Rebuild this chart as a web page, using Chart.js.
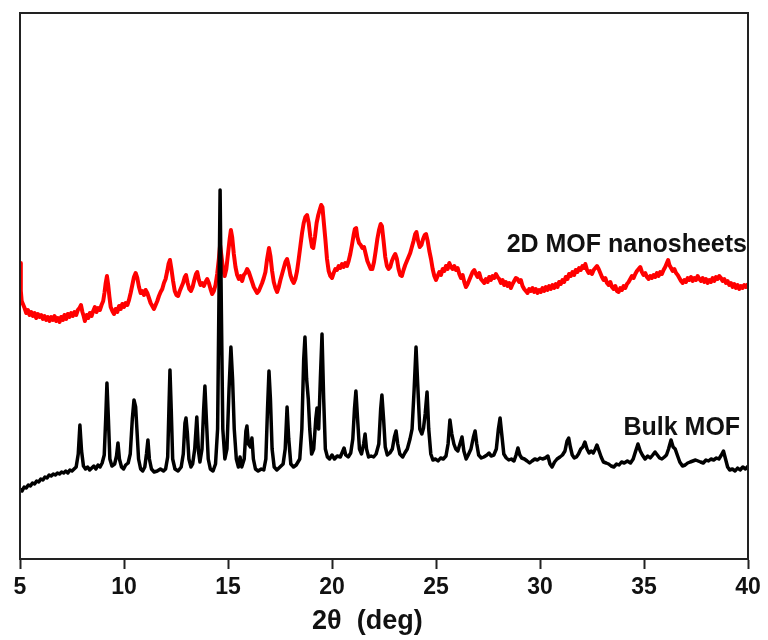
<!DOCTYPE html>
<html>
<head>
<meta charset="utf-8">
<title>XRD patterns</title>
<script src="https://cdn.jsdelivr.net/npm/chart.js@4.4.1/dist/chart.umd.min.js"></script>
<style>
  html, body { margin: 0; padding: 0; background: #fff; }
  #wrap { width: 768px; height: 640px; }
</style>
</head>
<body>
<div id="wrap"><canvas id="xrd" width="768" height="640"></canvas></div>
<script>
// 2theta (deg), intensity (a.u.) pairs
var bulkMOF = [
[5.00,70],[5.10,68],[5.20,72],[5.30,71],[5.40,74],[5.50,73],[5.60,76],[5.70,75],[5.80,78],[5.90,77],
[6.00,80],[6.10,79],[6.20,82],[6.30,81],[6.40,84],[6.50,83],[6.60,85],[6.70,84],[6.80,86],[6.90,85],
[7.00,87],[7.10,86],[7.20,88],[7.30,86],[7.40,89],[7.50,88],[7.60,90],[7.70,92],[7.80,105],[7.88,134],
[7.96,108],[8.05,93],[8.15,90],[8.25,92],[8.35,89],[8.45,91],[8.55,93],[8.65,90],[8.75,94],[8.85,92],
[8.95,96],[9.05,104],[9.12,140],[9.18,176],[9.25,140],[9.32,100],[9.42,93],[9.55,95],[9.64,103],[9.71,116],
[9.78,100],[9.88,92],[9.98,90],[10.08,94],[10.20,96],[10.30,105],[10.40,140],[10.48,159],[10.56,152],[10.62,130],
[10.70,100],[10.80,90],[10.90,88],[11.00,92],[11.08,105],[11.15,119],[11.22,100],[11.32,90],[11.45,87],[11.60,88],
[11.75,90],[11.90,88],[12.00,90],[12.10,102],[12.16,150],[12.21,189],[12.27,150],[12.34,100],[12.45,90],[12.60,88],
[12.75,92],[12.85,105],[12.93,136],[12.98,141],[13.05,125],[13.12,100],[13.22,92],[13.30,95],[13.40,110],[13.50,142],
[13.58,108],[13.65,97],[13.75,110],[13.83,150],[13.89,173],[13.96,140],[14.05,100],[14.15,90],[14.28,88],[14.40,95],
[14.50,130],[14.56,250],[14.62,369],[14.68,250],[14.75,130],[14.85,100],[14.95,110],[15.05,170],[15.14,212],[15.22,180],
[15.30,130],[15.40,100],[15.50,92],[15.58,102],[15.66,92],[15.78,100],[15.86,128],[15.91,133],[15.98,115],[16.08,112],
[16.15,121],[16.22,100],[16.32,90],[16.45,88],[16.60,90],[16.72,89],[16.82,100],[16.90,150],[16.97,188],[17.04,160],
[17.12,110],[17.22,92],[17.35,89],[17.50,92],[17.65,95],[17.75,110],[17.84,152],[17.92,120],[18.02,95],[18.15,92],
[18.28,94],[18.45,100],[18.55,130],[18.64,200],[18.70,222],[18.78,180],[18.86,160],[18.93,130],[19.02,105],[19.12,110],
[19.22,140],[19.28,151],[19.36,130],[19.44,180],[19.52,225],[19.60,160],[19.68,110],[19.78,102],[19.88,100],[20.00,104],
[20.12,100],[20.25,103],[20.40,102],[20.52,108],[20.58,111],[20.66,104],[20.78,102],[20.90,106],[21.00,120],[21.08,150],
[21.15,168],[21.23,140],[21.32,110],[21.42,105],[21.52,115],[21.59,125],[21.66,110],[21.76,102],[21.88,103],[22.00,102],
[22.12,105],[22.25,115],[22.34,150],[22.40,164],[22.48,140],[22.56,112],[22.66,104],[22.78,106],[22.90,110],[23.00,122],
[23.08,128],[23.16,115],[23.26,105],[23.40,102],[23.50,106],[23.62,110],[23.75,120],[23.85,130],[23.95,170],[24.04,212],
[24.12,175],[24.22,130],[24.32,125],[24.40,131],[24.48,145],[24.57,167],[24.65,130],[24.75,105],[24.85,99],[24.98,100],
[25.10,98],[25.22,101],[25.35,100],[25.48,103],[25.58,115],[25.67,139],[25.76,125],[25.86,115],[25.95,110],[26.05,108],
[26.15,115],[26.25,122],[26.34,108],[26.45,100],[26.55,104],[26.68,110],[26.80,122],[26.88,128],[26.96,115],[27.05,104],
[27.18,101],[27.30,102],[27.45,104],[27.55,106],[27.65,103],[27.78,104],[27.90,110],[28.00,130],[28.08,141],[28.16,125],
[28.26,105],[28.38,101],[28.50,99],[28.62,100],[28.75,98],[28.85,104],[28.94,111],[29.03,104],[29.12,101],[29.25,100],
[29.38,98],[29.50,96],[29.62,98],[29.75,100],[29.88,99],[30.00,101],[30.12,100],[30.25,101],[30.38,103],[30.48,95],
[30.58,92],[30.70,97],[30.82,100],[30.96,102],[31.08,104],[31.20,108],[31.30,118],[31.38,121],[31.46,112],[31.55,104],
[31.65,101],[31.75,102],[31.85,105],[31.96,110],[32.06,112],[32.16,117],[32.26,110],[32.36,106],[32.46,108],[32.56,106],
[32.66,110],[32.74,114],[32.84,108],[32.94,102],[33.05,97],[33.18,96],[33.30,95],[33.42,93],[33.55,92],[33.68,95],
[33.80,94],[33.92,97],[34.05,96],[34.20,98],[34.35,96],[34.48,100],[34.60,108],[34.71,115],[34.82,108],[34.92,104],
[35.05,100],[35.18,103],[35.30,101],[35.42,104],[35.53,107],[35.64,104],[35.75,101],[35.86,100],[35.98,102],[36.08,104],
[36.18,110],[36.30,119],[36.40,112],[36.50,110],[36.60,104],[36.72,97],[36.85,93],[36.98,94],[37.10,96],[37.22,97],
[37.35,98],[37.48,99],[37.60,98],[37.72,97],[37.85,96],[37.98,99],[38.10,98],[38.22,100],[38.35,99],[38.48,101],
[38.60,100],[38.72,104],[38.82,108],[38.92,100],[39.02,92],[39.12,89],[39.25,90],[39.38,88],[39.50,91],[39.62,89],
[39.75,92],[39.88,90],[40.00,93]
];

var nanosheets = [
[5.00,296],[5.04,268],[5.08,258],[5.14,255],[5.22,251],[5.30,246],[5.38,249],[5.46,244],[5.54,247],[5.62,243],
[5.70,246],[5.78,241],[5.86,245],[5.94,242],[6.02,244],[6.10,240],[6.18,243],[6.26,239],[6.34,242],[6.42,238],
[6.50,242],[6.58,239],[6.66,243],[6.74,238],[6.82,241],[6.90,237],[6.98,242],[7.06,239],[7.14,244],[7.22,240],
[7.30,245],[7.38,242],[7.46,246],[7.54,243],[7.62,247],[7.70,244],[7.78,249],[7.86,251],[7.93,254],[8.00,247],
[8.06,243],[8.12,238],[8.20,244],[8.28,241],[8.36,246],[8.44,243],[8.52,248],[8.60,252],[8.68,247],[8.76,251],
[8.84,249],[8.92,254],[9.00,258],[9.06,266],[9.12,276],[9.18,283],[9.24,274],[9.30,262],[9.36,252],[9.44,248],
[9.52,245],[9.60,250],[9.68,247],[9.76,253],[9.84,250],[9.92,255],[10.00,252],[10.08,256],[10.16,254],[10.24,259],
[10.32,266],[10.40,274],[10.48,282],[10.56,286],[10.64,281],[10.72,272],[10.80,266],[10.88,268],[10.96,264],[11.04,269],
[11.12,266],[11.20,261],[11.28,256],[11.36,253],[11.44,250],[11.52,254],[11.60,258],[11.68,263],[11.76,267],[11.84,270],
[11.92,276],[12.00,280],[12.08,288],[12.14,295],[12.21,299],[12.28,290],[12.36,278],[12.44,268],[12.52,264],[12.60,263],
[12.68,268],[12.76,272],[12.84,276],[12.92,282],[12.98,284],[13.06,276],[13.14,270],[13.22,268],[13.30,272],[13.38,279],
[13.46,285],[13.52,287],[13.60,279],[13.68,274],[13.76,276],[13.84,273],[13.92,277],[14.00,280],[14.08,276],[14.16,270],
[14.24,265],[14.32,268],[14.40,274],[14.48,285],[14.56,300],[14.62,314],[14.68,304],[14.76,290],[14.84,283],[14.92,290],
[15.00,305],[15.08,320],[15.14,329],[15.20,322],[15.28,305],[15.36,292],[15.44,284],[15.52,280],[15.60,283],[15.68,278],
[15.76,284],[15.84,286],[15.92,290],[16.00,287],[16.08,282],[16.16,277],[16.24,272],[16.32,269],[16.40,266],[16.48,268],
[16.56,272],[16.64,276],[16.72,281],[16.80,287],[16.88,300],[16.97,311],[17.04,303],[17.12,288],[17.20,277],[17.28,271],
[17.36,267],[17.44,272],[17.52,279],[17.60,285],[17.68,291],[17.76,297],[17.84,300],[17.92,293],[18.00,284],[18.08,279],
[18.16,276],[18.24,280],[18.32,288],[18.40,300],[18.48,313],[18.56,326],[18.64,336],[18.72,342],[18.80,344],[18.88,336],
[18.96,322],[19.04,312],[19.10,311],[19.18,322],[19.26,336],[19.34,344],[19.42,350],[19.48,354],[19.54,352],[19.60,338],
[19.68,320],[19.76,300],[19.84,288],[19.92,283],[20.00,281],[20.08,286],[20.16,290],[20.24,289],[20.32,293],[20.40,291],
[20.48,295],[20.56,292],[20.64,296],[20.72,293],[20.80,298],[20.88,305],[20.96,314],[21.04,324],[21.10,330],[21.16,331],
[21.22,322],[21.30,316],[21.38,314],[21.46,311],[21.54,312],[21.62,305],[21.70,298],[21.78,294],[21.86,290],[21.94,290],
[22.02,297],[22.10,308],[22.18,320],[22.26,329],[22.34,335],[22.40,333],[22.48,318],[22.56,302],[22.64,293],[22.72,290],
[22.80,292],[22.88,298],[22.96,302],[23.04,305],[23.12,300],[23.20,290],[23.28,284],[23.36,283],[23.44,289],[23.52,294],
[23.60,298],[23.68,302],[23.76,306],[23.84,312],[23.92,318],[24.00,325],[24.06,327],[24.14,318],[24.22,312],[24.30,314],
[24.38,320],[24.46,324],[24.52,325],[24.60,318],[24.68,308],[24.76,300],[24.84,290],[24.92,283],[25.00,279],[25.08,283],
[25.16,287],[25.24,284],[25.32,290],[25.40,288],[25.48,293],[25.56,290],[25.64,296],[25.72,292],[25.80,290],[25.88,293],
[25.96,289],[26.04,291],[26.12,285],[26.20,281],[26.28,284],[26.36,277],[26.44,272],[26.52,275],[26.60,279],[26.68,283],
[26.76,287],[26.84,289],[26.92,285],[27.00,282],[27.08,286],[27.16,280],[27.24,278],[27.32,276],[27.40,280],[27.48,277],
[27.56,282],[27.64,279],[27.72,283],[27.80,281],[27.88,285],[27.96,282],[28.04,280],[28.12,276],[28.20,279],[28.28,274],
[28.36,277],[28.44,273],[28.52,276],[28.60,271],[28.68,275],[28.76,278],[28.84,281],[28.92,280],[29.00,277],[29.08,279],
[29.16,273],[29.24,270],[29.32,268],[29.40,266],[29.48,270],[29.56,268],[29.64,271],[29.72,267],[29.80,270],[29.88,266],
[29.96,269],[30.04,267],[30.12,271],[30.20,268],[30.28,272],[30.36,269],[30.44,273],[30.52,270],[30.60,274],[30.68,271],
[30.76,275],[30.84,272],[30.92,277],[31.00,275],[31.08,279],[31.16,277],[31.24,282],[31.32,280],[31.40,285],[31.48,283],
[31.56,287],[31.64,284],[31.72,289],[31.80,287],[31.88,291],[31.96,289],[32.04,293],[32.12,291],[32.18,295],[32.26,289],
[32.34,286],[32.42,288],[32.50,285],[32.58,289],[32.66,291],[32.74,293],[32.82,290],[32.90,286],[32.98,282],[33.06,279],
[33.14,281],[33.22,276],[33.30,274],[33.38,277],[33.46,272],[33.54,270],[33.62,273],[33.70,268],[33.78,267],[33.86,271],
[33.94,269],[34.02,273],[34.10,271],[34.18,275],[34.26,277],[34.34,280],[34.42,283],[34.50,281],[34.58,285],[34.66,288],
[34.74,290],[34.82,292],[34.90,287],[34.98,284],[35.06,286],[35.14,282],[35.22,280],[35.30,283],[35.38,281],[35.46,284],
[35.54,282],[35.62,286],[35.70,283],[35.78,287],[35.86,285],[35.94,289],[36.02,292],[36.10,296],[36.16,299],[36.22,294],
[36.30,291],[36.38,288],[36.46,290],[36.54,286],[36.62,284],[36.70,281],[36.78,278],[36.86,276],[36.94,279],[37.02,277],
[37.10,281],[37.18,279],[37.26,282],[37.34,278],[37.42,281],[37.50,279],[37.58,283],[37.66,280],[37.74,278],[37.82,281],
[37.90,277],[37.98,280],[38.06,276],[38.14,279],[38.22,277],[38.30,281],[38.38,278],[38.46,282],[38.54,280],[38.62,283],
[38.70,281],[38.78,278],[38.86,280],[38.94,276],[39.02,278],[39.10,274],[39.18,276],[39.26,272],[39.34,275],[39.42,271],
[39.50,274],[39.58,270],[39.66,273],[39.74,271],[39.82,274],[39.90,272],[40.00,275]
];

var xTicks = [5, 10, 15, 20, 25, 30, 35, 40];
var seriesNames = ["Bulk MOF", "2D MOF nanosheets"];
var axisTitle = "2\u03b8  (deg)";

var FONT = "'Liberation Sans', Arial, Helvetica, sans-serif";

function toPoints(arr) {
    return arr.map(function (p) { return { x: p[0], y: p[1] }; });
}

// frame box + curve labels + x title
var extras = {
    id: 'extras',
    afterDraw: function (chart) {
        var c = chart.ctx;
        var a = chart.chartArea;
        var xs = chart.scales.x, ys = chart.scales.y;
        c.save();
        c.strokeStyle = '#222';
        c.lineWidth = 2;
        c.strokeRect(a.left, a.top, a.right - a.left, a.bottom - a.top);

        c.fillStyle = '#111';
        c.font = 'bold 25px ' + FONT;
        c.textAlign = 'right';
        c.textBaseline = 'middle';
        c.fillText(seriesNames[1], xs.getPixelForValue(39.95), ys.getPixelForValue(314));
        c.fillText(seriesNames[0], xs.getPixelForValue(39.62), ys.getPixelForValue(131));

        c.textAlign = 'center';
        c.font = 'bold 27px ' + FONT;
        c.fillText(axisTitle, xs.getPixelForValue(21.7), a.bottom + 63);
        c.restore();
    }
};

new Chart(document.getElementById('xrd'), {
    type: 'line',
    data: {
        datasets: [
            {
                label: seriesNames[0],
                data: toPoints(bulkMOF),
                borderColor: '#000',
                borderWidth: 3.5,
                pointRadius: 0,
                tension: 0,
                borderJoinStyle: 'round'
            },
            {
                label: seriesNames[1],
                data: toPoints(nanosheets),
                borderColor: '#ff0000',
                borderWidth: 4,
                pointRadius: 0,
                tension: 0,
                borderJoinStyle: 'round'
            }
        ]
    },
    options: {
        responsive: false,
        animation: false,
        layout: { padding: { left: 20, right: 20, top: 13, bottom: 0 } },
        plugins: {
            legend: { display: false },
            tooltip: { enabled: false }
        },
        scales: {
            x: {
                type: 'linear',
                min: 5,
                max: 40,
                afterFit: function (s) { s.height = 81; },
                afterBuildTicks: function (s) {
                    s.ticks = xTicks.map(function (v) { return { value: v }; });
                },
                grid: {
                    display: true,
                    drawOnChartArea: false,
                    drawTicks: true,
                    tickLength: 10,
                    tickWidth: 2,
                    tickColor: '#222'
                },
                border: { display: true, color: '#222', width: 2 },
                ticks: {
                    color: '#111',
                    padding: 5,
                    maxRotation: 0,
                    autoSkip: false,
                    font: { family: FONT, size: 23, weight: 'bold' }
                }
            },
            y: {
                display: false,
                min: 0,
                max: 546
            }
        }
    },
    plugins: [extras]
});
</script>
</body>
</html>
